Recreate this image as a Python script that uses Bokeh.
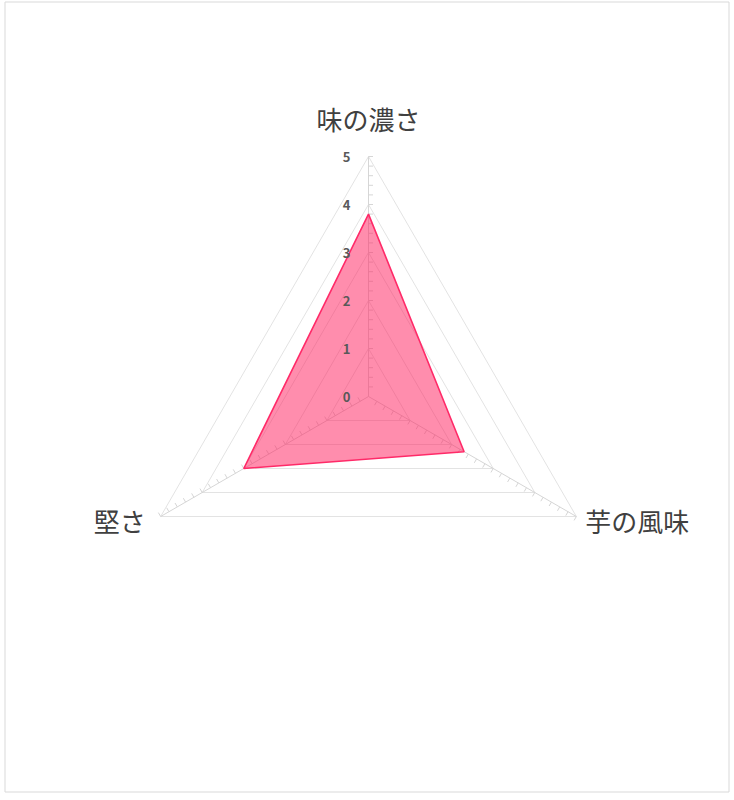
import math
from bokeh.plotting import figure
from bokeh.models import Range1d, ColumnDataSource
from bokeh.core.properties import value
from bokeh.embed import file_html
from bokeh.resources import INLINE

# ---- data ----
categories = ["味の濃さ", "芋の風味", "堅さ"]
scores = [3.8, 2.3, 3.0]
tick_labels = ["0", "1", "2", "3", "4", "5"]
max_value = 5

FONT = "Noto Sans CJK JP"
PX = 48.0  # pixels per unit

W, H = 734, 800
cx_px, cy_top = 368, 396          # center (from left / from top)
cy_px = H - cy_top                # from bottom

def ux(px):  # pixel from left -> data x
    return (px - cx_px) / PX

def uy(py):  # pixel from top -> data y
    return (H - py - cy_px) / PX

p = figure(width=W, height=H, output_backend="svg", toolbar_location=None,
           x_range=Range1d(-cx_px / PX, (W - cx_px) / PX),
           y_range=Range1d(-cy_px / PX, (H - cy_px) / PX),
           min_border=0)
p.axis.visible = False
p.grid.visible = False
p.outline_line_color = None
p.background_fill_color = "white"
p.border_fill_color = "white"

# chart frame
p.quad(left=[ux(4.5)], right=[ux(728.5)], top=[uy(1.5)], bottom=[uy(791.5)],
       fill_color=None, line_color="#d9d9d9", line_width=1)

n = len(categories)
angles = [math.pi / 2 - 2 * math.pi * i / n for i in range(n)]
dirs = [(math.cos(a), math.sin(a)) for a in angles]

# grid triangles
for lvl in range(1, max_value + 1):
    xs = [d[0] * lvl for d in dirs] + [dirs[0][0] * lvl]
    ys = [d[1] * lvl for d in dirs] + [dirs[0][1] * lvl]
    p.line(xs, ys, line_color="#e3e3e3", line_width=1)

# spokes with ticks
tick_len = 4.5 / PX
for (dx, dy) in dirs:
    p.segment(x0=[0], y0=[0], x1=[dx * max_value], y1=[dy * max_value],
              line_color="#d6d6d6", line_width=1)
    px_, py_ = dy, -dx  # clockwise perpendicular
    ticks = [i * 0.2 for i in range(1, int(max_value / 0.2) + 1)]
    p.segment(x0=[dx * t for t in ticks], y0=[dy * t for t in ticks],
              x1=[dx * t + px_ * tick_len for t in ticks],
              y1=[dy * t + py_ * tick_len for t in ticks],
              line_color="#d6d6d6", line_width=1)

# data polygon
vx = [d[0] * s for d, s in zip(dirs, scores)]
vy = [d[1] * s for d, s in zip(dirs, scores)]
p.patch(vx, vy, fill_color="#ff1c5c", fill_alpha=0.5,
        line_color="#ff2a68", line_width=1.6)

# radial tick labels
tsrc = ColumnDataSource(dict(x=[0] * len(tick_labels),
                             y=[float(t) for t in tick_labels],
                             t=tick_labels))
p.text(x="x", y="y", text="t", source=tsrc, x_offset=-18,
       text_align="right", text_baseline="middle",
       text_font=value(FONT), text_font_size="13px",
       text_font_style="bold", text_color="#595959")

# category labels
aligns, xoffs, yoffs = [], [], []
for (dx, dy) in dirs:
    if abs(dx) < 1e-6:
        aligns.append("center"); xoffs.append(0); yoffs.append(-38)
    elif dx > 0:
        aligns.append("left"); xoffs.append(9); yoffs.append(4)
    else:
        aligns.append("right"); xoffs.append(-15); yoffs.append(4)
csrc = ColumnDataSource(dict(x=[d[0] * max_value for d in dirs],
                             y=[d[1] * max_value for d in dirs],
                             t=categories, a=aligns, xo=xoffs, yo=yoffs))
p.text(x="x", y="y", text="t", source=csrc, x_offset="xo", y_offset="yo",
       text_align="a", text_baseline="middle",
       text_font=value(FONT), text_font_size="26px", text_color="#404040")

open("out.html", "w").write(file_html(p, INLINE))
